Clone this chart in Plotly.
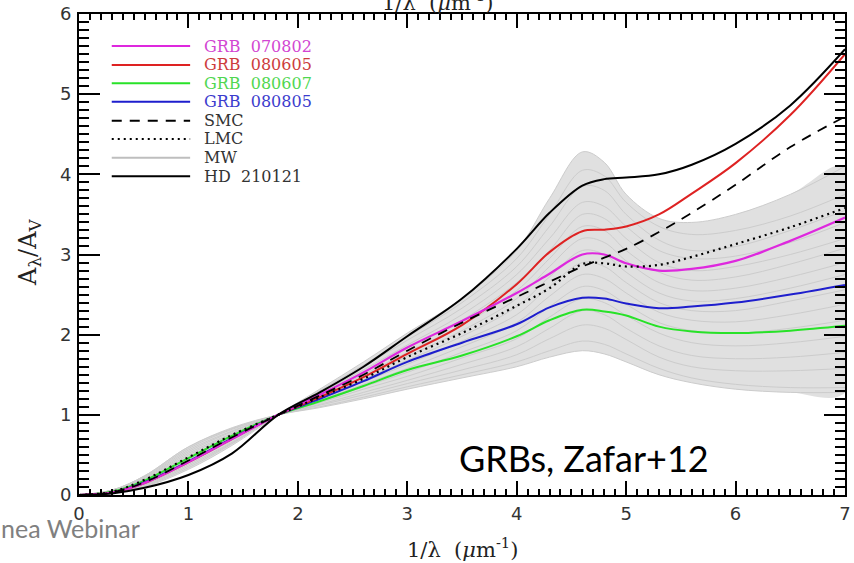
import numpy as np
import plotly.graph_objects as go

# ---------------- data ----------------
X = [0, 0.3, 0.6, 1.0, 1.4, 1.82, 2.2, 2.6, 3.0, 3.5, 4.0, 4.3, 4.6, 4.8, 5.0, 5.3, 5.6, 6.0, 6.5, 7.0]

GRB_070802 = [0, 0.03, 0.15, 0.41, 0.70, 1.0, 1.25, 1.53, 1.84, 2.17, 2.52, 2.76, 3.00, 3.00, 2.89, 2.80, 2.82, 2.92, 3.17, 3.46]
GRB_080605 = [0, 0.03, 0.15, 0.41, 0.70, 1.0, 1.22, 1.47, 1.76, 2.12, 2.63, 3.03, 3.29, 3.31, 3.35, 3.50, 3.76, 4.14, 4.74, 5.50]
GRB_080607 = [0, 0.04, 0.18, 0.46, 0.74, 1.0, 1.17, 1.36, 1.56, 1.74, 1.98, 2.18, 2.31, 2.29, 2.24, 2.10, 2.04, 2.02, 2.05, 2.11]
GRB_080805 = [0, 0.03, 0.16, 0.42, 0.71, 1.0, 1.20, 1.42, 1.66, 1.90, 2.13, 2.34, 2.46, 2.45, 2.39, 2.33, 2.35, 2.40, 2.50, 2.62]
SMC = [0, 0.03, 0.16, 0.43, 0.72, 1.0, 1.24, 1.50, 1.80, 2.15, 2.47, 2.66, 2.85, 2.96, 3.07, 3.28, 3.52, 3.87, 4.34, 4.72]
LMC = [0, 0.04, 0.19, 0.47, 0.75, 1.0, 1.22, 1.45, 1.72, 2.02, 2.36, 2.58, 2.88, 2.89, 2.85, 2.87, 2.97, 3.13, 3.34, 3.58]
HD_210121 = [0, 0.02, 0.09, 0.25, 0.52, 1.0, 1.28, 1.60, 1.98, 2.45, 3.07, 3.52, 3.86, 3.94, 3.96, 4.00, 4.12, 4.38, 4.86, 5.56]

# Milky Way sight lines (grey band)
MW_01 = [0, 0.02, 0.10, 0.32, 0.62, 1.0, 1.32, 1.66, 2.02, 2.45, 3.05, 3.70, 4.28, 4.15, 3.75, 3.45, 3.40, 3.50, 3.75, 4.10]
MW_02 = [0, 0.02, 0.11, 0.34, 0.64, 1.0, 1.30, 1.62, 1.97, 2.40, 2.95, 3.50, 4.05, 3.98, 3.65, 3.35, 3.25, 3.30, 3.48, 3.75]
MW_03 = [0, 0.03, 0.12, 0.36, 0.65, 1.0, 1.29, 1.60, 1.93, 2.33, 2.85, 3.35, 3.85, 3.80, 3.50, 3.18, 3.05, 3.10, 3.30, 3.55]
MW_04 = [0, 0.03, 0.13, 0.38, 0.66, 1.0, 1.27, 1.56, 1.87, 2.25, 2.75, 3.20, 3.65, 3.60, 3.35, 3.05, 2.95, 2.98, 3.15, 3.40]
MW_05 = [0, 0.03, 0.14, 0.40, 0.68, 1.0, 1.26, 1.53, 1.83, 2.18, 2.65, 3.05, 3.50, 3.45, 3.20, 2.90, 2.80, 2.85, 3.00, 3.20]
MW_06 = [0, 0.03, 0.15, 0.42, 0.70, 1.0, 1.24, 1.50, 1.78, 2.12, 2.55, 2.95, 3.35, 3.30, 3.05, 2.78, 2.68, 2.72, 2.88, 3.08]
MW_07 = [0, 0.04, 0.16, 0.44, 0.71, 1.0, 1.23, 1.47, 1.73, 2.05, 2.45, 2.85, 3.20, 3.15, 2.92, 2.65, 2.55, 2.58, 2.72, 2.90]
MW_08 = [0, 0.04, 0.17, 0.46, 0.73, 1.0, 1.21, 1.44, 1.68, 1.98, 2.35, 2.72, 3.05, 3.00, 2.78, 2.52, 2.42, 2.45, 2.58, 2.75]
MW_09 = [0, 0.04, 0.18, 0.48, 0.74, 1.0, 1.20, 1.41, 1.63, 1.92, 2.25, 2.60, 2.90, 2.85, 2.65, 2.40, 2.30, 2.30, 2.42, 2.56]
MW_10 = [0, 0.05, 0.19, 0.50, 0.76, 1.0, 1.18, 1.38, 1.58, 1.85, 2.15, 2.48, 2.75, 2.70, 2.52, 2.28, 2.18, 2.16, 2.25, 2.38]
MW_11 = [0, 0.05, 0.20, 0.52, 0.77, 1.0, 1.17, 1.35, 1.53, 1.78, 2.05, 2.35, 2.60, 2.55, 2.38, 2.15, 2.05, 2.02, 2.08, 2.18]
MW_12 = [0, 0.05, 0.21, 0.54, 0.79, 1.0, 1.15, 1.32, 1.48, 1.71, 1.95, 2.22, 2.45, 2.40, 2.24, 2.02, 1.90, 1.86, 1.90, 1.98]
MW_13 = [0, 0.06, 0.22, 0.56, 0.80, 1.0, 1.13, 1.28, 1.43, 1.63, 1.85, 2.08, 2.30, 2.25, 2.08, 1.86, 1.74, 1.70, 1.72, 1.78]
MW_14 = [0, 0.06, 0.23, 0.58, 0.82, 1.0, 1.12, 1.25, 1.39, 1.56, 1.75, 1.95, 2.12, 2.08, 1.94, 1.72, 1.60, 1.55, 1.55, 1.58]
MW_15 = [0, 0.06, 0.24, 0.60, 0.83, 1.0, 1.10, 1.22, 1.35, 1.50, 1.66, 1.80, 1.92, 1.88, 1.76, 1.58, 1.46, 1.38, 1.34, 1.34]
MW_16 = [0, 0.06, 0.24, 0.60, 0.84, 1.0, 1.09, 1.20, 1.32, 1.46, 1.60, 1.72, 1.80, 1.76, 1.66, 1.50, 1.40, 1.32, 1.28, 1.28]
MW_CURVES = [MW_01, MW_02, MW_03, MW_04, MW_05, MW_06, MW_07, MW_08,
             MW_09, MW_10, MW_11, MW_12, MW_13, MW_14, MW_15, MW_16]

X_TICKS = [0, 1, 2, 3, 4, 5, 6, 7]
Y_TICKS = [0, 1, 2, 3, 4, 5, 6]

# ---------------- styles ----------------
W, H = 854, 563
ML, MR, MT, MB = 79, 3, 11, 68
PW, PH = W - ML - MR, H - MT - MB

def px_x(p):   # pixel -> paper x
    return (p - ML) / PW

def px_y(p):   # pixel -> paper y
    return (H - MB - p) / PH

MAGENTA = "rgb(222,40,222)"
RED = "rgb(222,34,34)"
GREEN = "rgb(40,226,40)"
BLUE = "rgb(30,30,205)"
GREY = "rgb(204,204,204)"

SERIF = "DejaVu Serif"

fig = go.Figure()

mw = np.array(MW_CURVES)
upper = mw.max(axis=0)
lower = mw.min(axis=0)
fig.add_trace(go.Scatter(x=X + X[::-1], y=list(upper) + list(lower[::-1]),
                         fill="toself", fillcolor="rgb(224,224,224)",
                         line=dict(width=0, shape="spline"), mode="lines",
                         hoverinfo="skip", showlegend=False))
for c in MW_CURVES:
    fig.add_trace(go.Scatter(x=X, y=c, mode="lines",
                             line=dict(color=GREY, width=1, shape="spline"),
                             showlegend=False))

series = [
    (GRB_080607, GREEN, "solid", 2),
    (GRB_080805, BLUE, "solid", 2),
    (GRB_080605, RED, "solid", 2),
    (GRB_070802, MAGENTA, "solid", 2.2),
    (SMC, "black", "10px,8px", 1.8),
    (LMC, "black", "2px,4px", 2.2),
    (HD_210121, "black", "solid", 2),
]
for ys, col, dash, w in series:
    fig.add_trace(go.Scatter(x=X, y=ys, mode="lines",
                             line=dict(color=col, width=w, dash=dash, shape="spline"),
                             showlegend=False))

# ---------------- manual legend ----------------
legend_rows = [
    ("GRB&nbsp;&nbsp;070802", MAGENTA, "solid", "rgb(210,70,210)"),
    ("GRB&nbsp;&nbsp;080605", RED, "solid", "rgb(205,60,60)"),
    ("GRB&nbsp;&nbsp;080607", GREEN, "solid", "rgb(80,215,80)"),
    ("GRB&nbsp;&nbsp;080805", BLUE, "solid", "rgb(60,60,205)"),
    ("SMC", "black", "10px,8px", "#333"),
    ("LMC", "black", "2px,4px", "#333"),
    ("MW", "rgb(190,190,190)", "solid", "#333"),
    ("HD&nbsp;&nbsp;210121", "black", "solid", "#333"),
]
row_y = [43.3, 62.3, 80.7, 99.3, 118.3, 136.7, 155.7, 174.3]
shapes = []
annotations = []
for (lab, col, dash, tcol), ry in zip(legend_rows, row_y):
    shapes.append(dict(type="line", xref="paper", yref="paper",
                       x0=px_x(112), x1=px_x(191), y0=px_y(ry), y1=px_y(ry),
                       line=dict(color=col, width=2, dash=dash)))
    annotations.append(dict(text=lab, xref="paper", yref="paper",
                            x=px_x(203), y=px_y(ry), xanchor="left", yanchor="middle",
                            showarrow=False, font=dict(family=SERIF, size=16, color=tcol)))

# axis titles and texts
annotations += [
    dict(text="1/λ&nbsp;&nbsp;(<i>μ</i>m<sup>-1</sup>)", xref="paper", yref="paper",
         x=px_x(465), y=px_y(548), xanchor="center", yanchor="middle", showarrow=False,
         font=dict(family=SERIF, size=21, color="#222")),
    dict(text="1/λ&nbsp;&nbsp;(<i>μ</i>m<sup>-1</sup>)", xref="paper", yref="paper",
         x=px_x(440), y=px_y(14), xanchor="center", yanchor="bottom", showarrow=False,
         font=dict(family=SERIF, size=21, color="#222")),
    dict(text="A<sub>λ</sub>/A<sub>V</sub>", xref="paper", yref="paper", textangle=-90,
         x=px_x(29), y=px_y(251), xanchor="center", yanchor="middle", showarrow=False,
         font=dict(family=SERIF, size=24, color="#222")),
    dict(text="GRBs, Zafar+12", xref="paper", yref="paper",
         x=px_x(588), y=px_y(458), xanchor="center", yanchor="middle", showarrow=False,
         font=dict(family="Lato", size=36, color="black")),
    dict(text="nea Webinar", xref="paper", yref="paper",
         x=px_x(-2), y=px_y(528), xanchor="left", yanchor="middle", showarrow=False,
         font=dict(family="Lato", size=25, color="rgb(128,128,128)")),
]

axis_common = dict(showline=True, linecolor="black", linewidth=2, mirror="allticks",
                   ticks="inside", tickcolor="black", tickwidth=1.5,
                   showgrid=False, zeroline=False, ticklabeloverflow="allow",
                   tickfont=dict(family="DejaVu Sans", size=18, color="#333"))

fig.update_layout(
    width=W, height=H, autosize=False,
    margin=dict(l=ML, r=MR, t=MT, b=MB, pad=0),
    paper_bgcolor="white", plot_bgcolor="white",
    showlegend=False,
    shapes=shapes, annotations=annotations,
    xaxis=dict(range=[0, 7], tickvals=X_TICKS, ticktext=[str(v) for v in X_TICKS],
               ticklen=14, ticklabelstandoff=1,
               minor=dict(dtick=0.1, ticklen=6, ticks="inside", tickcolor="black", tickwidth=1.5),
               **axis_common),
    yaxis=dict(range=[0, 6], tickvals=Y_TICKS, ticktext=[str(v) for v in Y_TICKS],
               ticklen=21, ticklabelstandoff=2,
               minor=dict(dtick=0.1, ticklen=10, ticks="inside", tickcolor="black", tickwidth=1.5),
               **axis_common),
)

fig.write_html("out.html")
